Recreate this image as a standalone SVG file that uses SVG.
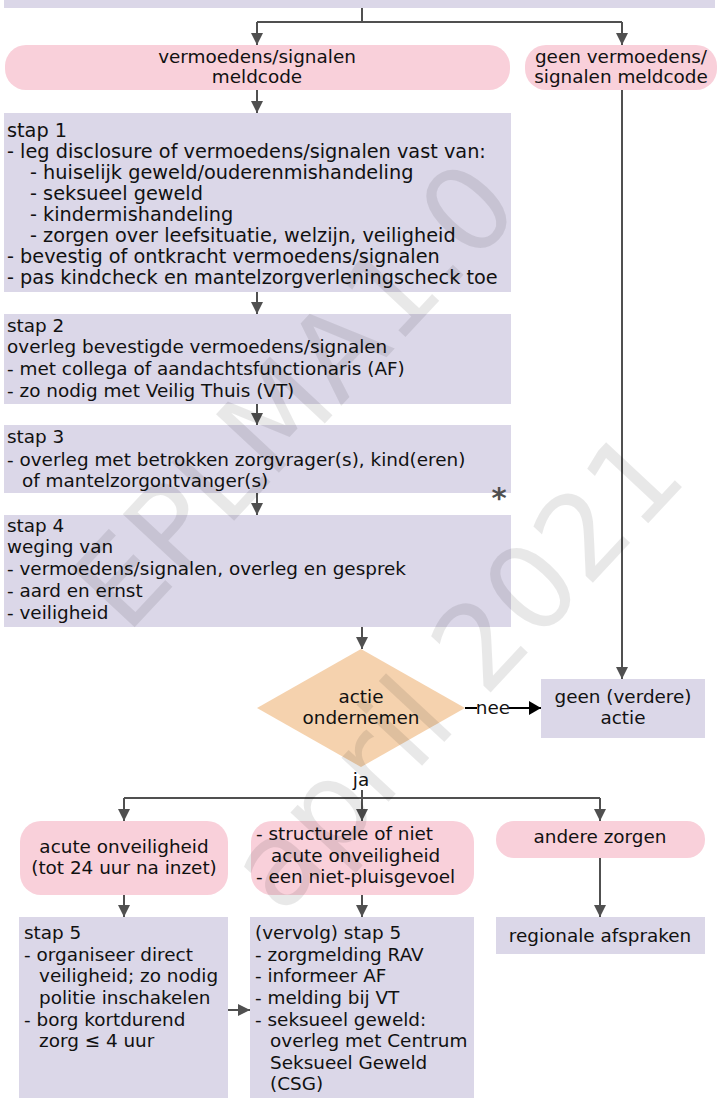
<svg xmlns="http://www.w3.org/2000/svg" width="719" height="1098" viewBox="0 0 719 1098">
<defs>
<marker id="ah" viewBox="0 0 12 12" refX="12" refY="6" markerWidth="12" markerHeight="12" markerUnits="userSpaceOnUse" orient="auto"><path d="M0,0 L12,6 L0,12 z" fill="#505050"/></marker>
<marker id="ahb" viewBox="0 0 12 14" refX="12" refY="7" markerWidth="12" markerHeight="14" markerUnits="userSpaceOnUse" orient="auto"><path d="M0,0 L12,7 L0,14 z" fill="#000"/></marker>
<style>
.box{fill:#dbd7e8}
.pill{fill:#f9d0da}
.dia{fill:#f5d2ae}
text{font-family:"DejaVu Sans",Verdana,sans-serif;font-size:18.4px;fill:#111}
.big{font-size:19.3px}
.c{text-anchor:middle}
.ln{stroke:#505050;stroke-width:2;fill:none}
.wm{font-size:118px;fill:#000;fill-opacity:0.09;text-anchor:middle}
</style>
</defs>
<rect id="topbar" class="box" x="4" y="0" width="711" height="8"/>
<g id="connectors">
<path class="ln" d="M362,8 V22 M257,22 H622"/>
<path class="ln" d="M257,22 V45" marker-end="url(#ah)"/>
<path class="ln" d="M622,22 V45" marker-end="url(#ah)"/>
<path class="ln" d="M257,90 V113" marker-end="url(#ah)"/>
<path class="ln" d="M257,292 V314" marker-end="url(#ah)"/>
<path class="ln" d="M257,404 V425" marker-end="url(#ah)"/>
<path class="ln" d="M257,493 V515" marker-end="url(#ah)"/>
<path class="ln" d="M362,627 V649" marker-end="url(#ah)"/>
<path class="ln" d="M622,90 V679" marker-end="url(#ah)"/>
<path d="M465,708 H541" stroke="#000" stroke-width="2" fill="none" marker-end="url(#ahb)"/>
<rect x="477" y="698" width="32" height="20" fill="#fff"/>
<text class="c" x="493" y="714">nee</text>
<path class="ln" d="M362,790 V821" marker-end="url(#ah)"/>
<path class="ln" d="M124,798 H600"/>
<path class="ln" d="M124,798 V821" marker-end="url(#ah)"/>
<path class="ln" d="M600,798 V821" marker-end="url(#ah)"/>
<path class="ln" d="M124,895 V917" marker-end="url(#ah)"/>
<path class="ln" d="M362,895 V917" marker-end="url(#ah)"/>
<path class="ln" d="M600,858 V917" marker-end="url(#ah)"/>
<path class="ln" d="M228,1010 H250" marker-end="url(#ah)"/>
<text class="c" x="361" y="786">ja</text>
</g>
<g id="pill-vermoedens">
<rect class="pill" x="5" y="45" width="505" height="45" rx="21"/>
<text class="c" x="257" y="63">vermoedens/signalen</text>
<text class="c" x="257" y="83">meldcode</text>
</g>
<g id="pill-geen">
<rect class="pill" x="525" y="45" width="192" height="45" rx="21"/>
<text class="c" x="621" y="63">geen vermoedens/</text>
<text class="c" x="621" y="83">signalen meldcode</text>
</g>
<g id="stap1">
<rect class="box" x="4" y="113" width="507" height="179"/>
<text class="big" x="7" y="137">stap 1</text>
<text class="big" x="7" y="158">- leg disclosure of vermoedens/signalen vast van:</text>
<text class="big" x="30" y="179">- huiselijk geweld/ouderenmishandeling</text>
<text class="big" x="30" y="200">- seksueel geweld</text>
<text class="big" x="30" y="221">- kindermishandeling</text>
<text class="big" x="30" y="242">- zorgen over leefsituatie, welzijn, veiligheid</text>
<text class="big" x="7" y="263">- bevestig of ontkracht vermoedens/signalen</text>
<text class="big" x="7" y="284">- pas kindcheck en mantelzorgverleningscheck toe</text>
</g>
<g id="stap2">
<rect class="box" x="4" y="314" width="507" height="90"/>
<text x="7" y="332">stap 2</text>
<text x="7" y="353">overleg bevestigde vermoedens/signalen</text>
<text x="7" y="375">- met collega of aandachtsfunctionaris (AF)</text>
<text x="7" y="397">- zo nodig met Veilig Thuis (VT)</text>
</g>
<g id="stap3">
<rect class="box" x="4" y="425" width="507" height="68"/>
<text x="7" y="443">stap 3</text>
<text x="7" y="466">- overleg met betrokken zorgvrager(s), kind(eren)</text>
<text x="22" y="487">of mantelzorgontvanger(s)</text>
<text x="499" y="508" style="font-size:29px;font-weight:bold;fill:#505050" class="c">*</text>
</g>
<g id="stap4">
<rect class="box" x="4" y="515" width="507" height="112"/>
<text x="7" y="532">stap 4</text>
<text x="7" y="553">weging van</text>
<text x="7" y="575">- vermoedens/signalen, overleg en gesprek</text>
<text x="7" y="597">- aard en ernst</text>
<text x="7" y="619">- veiligheid</text>
</g>
<g id="beslissing">
<path class="dia" d="M361,649 L465,708 L361,767 L257,708 z"/>
<text class="c" x="361" y="703">actie</text>
<text class="c" x="361" y="724">ondernemen</text>
</g>
<g id="geen-actie">
<rect class="box" x="541" y="679" width="164" height="59"/>
<text class="c" x="623" y="703">geen (verdere)</text>
<text class="c" x="623" y="724">actie</text>
</g>
<g id="acuut">
<rect class="pill" x="20" y="821" width="208" height="74" rx="21"/>
<text class="c" x="124" y="853">acute onveiligheid</text>
<text class="c" x="124" y="874">(tot 24 uur na inzet)</text>
</g>
<g id="structureel">
<rect class="pill" x="251" y="821" width="223" height="74" rx="21"/>
<text x="256" y="840">- structurele of niet</text>
<text x="271" y="862">acute onveiligheid</text>
<text x="256" y="883">- een niet-pluisgevoel</text>
</g>
<g id="andere">
<rect class="pill" x="496" y="821" width="209" height="37" rx="18"/>
<text class="c" x="600" y="843">andere zorgen</text>
</g>
<g id="stap5">
<rect class="box" x="19" y="917" width="209" height="181"/>
<text x="24" y="939">stap 5</text>
<text x="24" y="961">- organiseer direct</text>
<text x="39" y="982">veiligheid; zo nodig</text>
<text x="39" y="1004">politie inschakelen</text>
<text x="24" y="1026">- borg kortdurend</text>
<text x="39" y="1047">zorg ≤ 4 uur</text>
</g>
<g id="stap5-vervolg">
<rect class="box" x="250" y="917" width="224" height="181"/>
<text x="255" y="939">(vervolg) stap 5</text>
<text x="255" y="961">- zorgmelding RAV</text>
<text x="255" y="982">- informeer AF</text>
<text x="255" y="1004">- melding bij VT</text>
<text x="255" y="1026">- seksueel geweld:</text>
<text x="270" y="1047">overleg met Centrum</text>
<text x="270" y="1069">Seksueel Geweld</text>
<text x="270" y="1090">(CSG)</text>
</g>
<g id="regionaal">
<rect class="box" x="496" y="917" width="209" height="37"/>
<text class="c" x="600" y="942">regionale afspraken</text>
</g>
<g id="watermark">
<text class="wm" x="295" y="395" dy="0.35em" transform="rotate(-47 295 395)">EPLMA1.0</text>
<text class="wm" x="455" y="670" dy="0.35em" transform="rotate(-47 455 670)">april 2021</text>
</g>
</svg>
